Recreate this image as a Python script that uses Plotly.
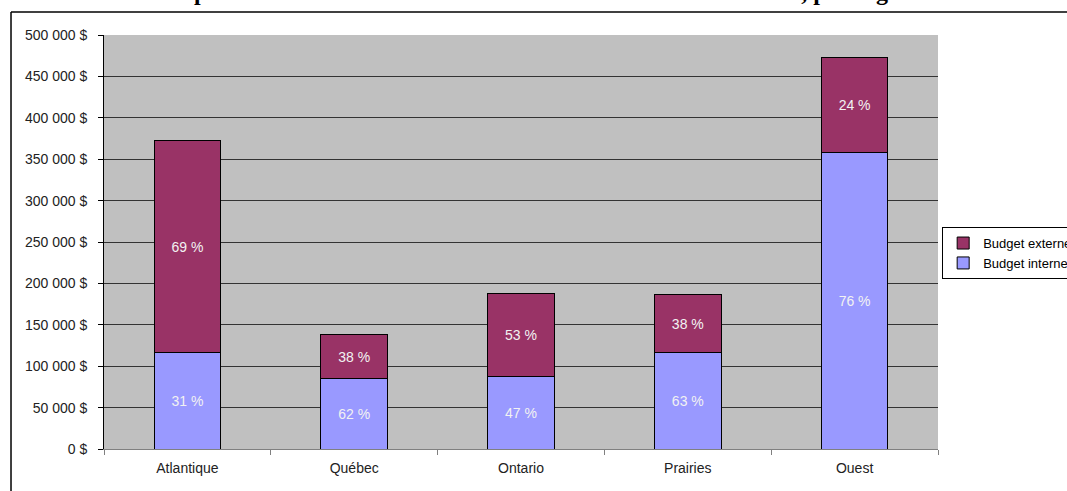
import plotly.graph_objects as go

regions = ["Atlantique", "Québec", "Ontario", "Prairies", "Ouest"]
budget_interne = [117000, 85000, 88000, 117000, 358000]
budget_externe = [255000, 53000, 100000, 69000, 115000]
labels_interne = ["31 %", "62 %", "47 %", "63 %", "76 %"]
labels_externe = ["69 %", "38 %", "53 %", "38 %", "24 %"]
y_ticks = [0, 50000, 100000, 150000, 200000, 250000, 300000, 350000, 400000, 450000, 500000]
y_tick_text = ["0 $", "50 000 $", "100 000 $", "150 000 $", "200 000 $", "250 000 $",
               "300 000 $", "350 000 $", "400 000 $", "450 000 $", "500 000 $"]
title_text = "Répartition du financement interne et du financement externe, par région"

FONT = "Liberation Sans"
FS = 14

fig = go.Figure()
fig.add_trace(go.Bar(
    x=regions, y=budget_interne, name="Budget interne",
    marker=dict(color="#9999FF", line=dict(color="#000000", width=1)),
    text=labels_interne, textposition="inside", insidetextanchor="middle",
    textfont=dict(color="#F2F2F2", size=FS, family=FONT),
    width=0.4,
))
fig.add_trace(go.Bar(
    x=regions, y=budget_externe, name="Budget externe",
    marker=dict(color="#993366", line=dict(color="#000000", width=1)),
    text=labels_externe, textposition="inside", insidetextanchor="middle",
    textfont=dict(color="#F2F2F2", size=FS, family=FONT),
    width=0.4,
))

fig.update_layout(
    barmode="stack",
    width=1067, height=491,
    margin=dict(l=104, r=129, t=35, b=42, autoexpand=False),
    plot_bgcolor="#C0C0C0",
    paper_bgcolor="#FFFFFF",
    font=dict(family=FONT, size=FS, color="#222222"),
    showlegend=True,
    legend=dict(
        x=1.005, y=0.536, xanchor="left", yanchor="top",
        traceorder="reversed",
        bordercolor="#000000", borderwidth=1, bgcolor="#FFFFFF",
        font=dict(size=13, color="#000000", family=FONT),
        itemwidth=30, tracegroupgap=0,
    ),
)
fig.update_xaxes(
    showgrid=False, tickson="boundaries", ticks="outside", ticklen=5,
    tickcolor="#808080", showline=True, linecolor="#808080", linewidth=1,
    tickfont=dict(size=FS, color="#222222"), ticklabelstandoff=6,
)
fig.update_yaxes(
    range=[0, 500000], tickvals=y_ticks, ticktext=y_tick_text,
    showgrid=True, gridcolor="#333333", gridwidth=1,
    ticks="outside", ticklen=5, tickcolor="#000000",
    showline=True, linecolor="#000000", linewidth=1,
    zeroline=False, tickfont=dict(size=FS, color="#222222"), ticklabelstandoff=8,
)

# outer chart frame (top and left edges visible)
fig.add_shape(type="line", xref="paper", yref="paper",
              x0=-0.1115, x1=1.2, y0=1.0556, y1=1.0556,
              line=dict(color="#000000", width=1.5))
fig.add_shape(type="line", xref="paper", yref="paper",
              x0=-0.1115, x1=-0.1115, y0=1.0556, y1=-0.2,
              line=dict(color="#000000", width=1.5))

# title, mostly cut off at top of picture
fig.add_annotation(text="<b>" + title_text + "</b>", xref="paper", yref="paper",
                   x=0.526, y=1.068, xanchor="center", yanchor="bottom",
                   showarrow=False,
                   font=dict(family="Liberation Serif", size=24, color="#000000"))

fig.write_html("out.html", config={"displayModeBar": False},
               post_script="document.body.style.margin='0';")
